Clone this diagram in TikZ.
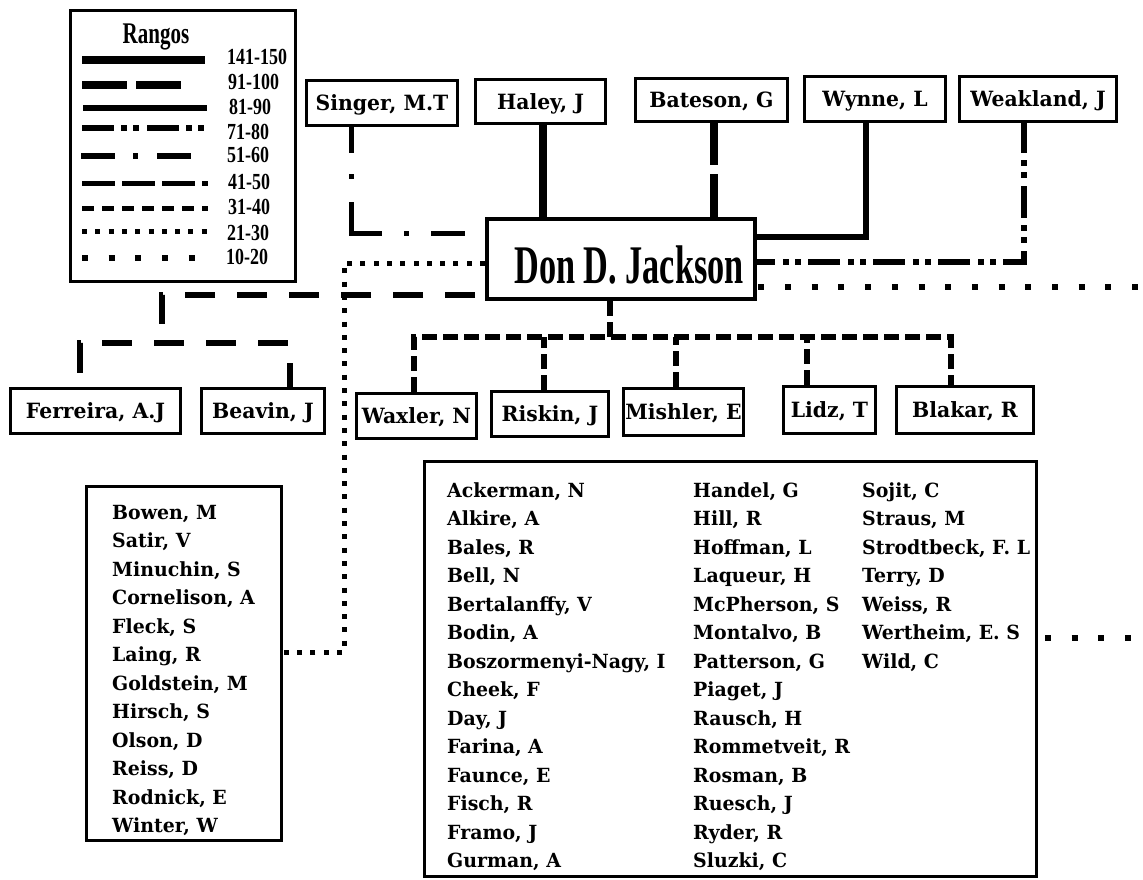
\documentclass[tikz,border=0pt]{standalone}
\usepackage{fontspec}
\setmainfont{DejaVu Serif}[FakeStretch=0.97]
\newfontfamily\condfont[FakeStretch=0.70]{Liberation Serif}
\newfontfamily\numfont[FakeStretch=0.78]{Liberation Serif}
\newfontfamily\jackfont[FakeStretch=0.63]{Liberation Serif}
\begin{document}
\begin{tikzpicture}[x=1pt,y=-1pt,
  box/.style={draw, line width=3.5pt, fill=white, inner sep=0pt,
    font=\fontsize{21}{23}\selectfont\bfseries, text height=15.3pt, text depth=0pt},
  listname/.style={anchor=base west, inner sep=0pt, font=\fontsize{19.5}{22}\selectfont\bfseries},
  rng/.style={anchor=west, inner sep=0pt, font={\numfont\bfseries\fontsize{23}{25}\selectfont}},
  r141/.style={line width=8pt},
  r91/.style={line width=8pt, dash pattern=on 45pt off 9pt},
  r81/.style={line width=6pt},
  r71/.style={line width=6pt, dash pattern=on 32pt off 7pt on 6pt off 6pt on 6pt off 8pt},
  r51/.style={line width=5pt, dash pattern=on 34pt off 18pt on 5pt off 19pt},
  r41/.style={line width=5pt, dash pattern=on 33pt off 7pt},
  r31/.style={line width=5pt, dash pattern=on 12pt off 8pt},
  r21/.style={line width=5pt, dash pattern=on 5pt off 8.3pt},
  r10/.style={line width=6pt, dash pattern=on 6pt off 20.7pt},
  singerline/.style={line width=5pt, dash pattern=on 26pt off 21pt on 5pt off 23pt on 62pt off 22pt on 5pt off 22pt on 34pt off 20pt},
  ferline/.style={line width=5.5pt, dash pattern=on 30pt off 22pt},
  kidline/.style={line width=5.5pt, dash pattern=on 15pt off 6pt},
]
\useasboundingbox (0,0) rectangle (1143,880);

% ---- legend ----
\node[box, line width=3pt, minimum width=225pt, minimum height=271pt] (legend) at (183,146) {};
\node[anchor=base, inner sep=0pt, font={\condfont\bfseries\fontsize{30}{32}\selectfont}] (rangos) at (156,44) {Rangos};
\draw[r141] (82,60) -- (205,60);
\draw[r91] (82,85) -- (181,85);
\draw[r81] (83,108) -- (207,108);
\draw[r71] (82,128) -- (208,128);
\draw[r51] (81,156) -- (193,156);
\draw[r41] (82,183) -- (208,183);
\draw[r31] (82,208) -- (208,208);
\draw[r21] (82,231) -- (207,231);
\draw[r10] (82,258) -- (195,258);
\node[rng] (l141) at (227,57) {141-150};
\node[rng] (l91) at (228,82) {91-100};
\node[rng] (l81) at (229,107) {81-90};
\node[rng] (l71) at (227,132) {71-80};
\node[rng] (l51) at (227,155) {51-60};
\node[rng] (l41) at (228,182) {41-50};
\node[rng] (l31) at (228,207) {31-40};
\node[rng] (l21) at (227,233) {21-30};
\node[rng] (l10) at (226,257) {10-20};

% ---- central node ----
\node[box, line width=4pt, minimum width=268pt, minimum height=80pt,
  font={\jackfont\bfseries\fontsize{54.4}{58}\selectfont}, text height=48pt, text depth=0pt]
  (jackson) at (621,259) {\hspace*{16pt}Don D. Jackson};

% ---- top row ----
\node[box, minimum width=151pt, minimum height=45pt] (singer) at (382,103) {Singer, M.T};
\node[box, minimum width=130pt, minimum height=44pt] (haley) at (540.5,101.5) {Haley, J};
\node[box, minimum width=152pt, minimum height=43pt] (bateson) at (711.5,100) {Bateson, G};
\node[box, minimum width=141pt, minimum height=45pt] (wynne) at (875,99) {Wynne, L};
\node[box, minimum width=157pt, minimum height=45pt] (weakland) at (1038,99) {Weakland, J};

% ---- lower row ----
\node[box, minimum width=170pt, minimum height=45pt] (ferreira) at (95.5,411) {Ferreira, A.J};
\node[box, minimum width=123pt, minimum height=45pt] (beavin) at (263,411) {Beavin, J};
\node[box, minimum width=120pt, minimum height=45pt] (waxler) at (416.5,416) {Waxler, N};
\node[box, minimum width=117pt, minimum height=45pt] (riskin) at (550,414) {Riskin, J};
\node[box, minimum width=120pt, minimum height=47pt] (mishler) at (683.5,412) {Mishler, E};
\node[box, minimum width=92pt, minimum height=47pt] (lidz) at (829.5,410) {Lidz, T};
\node[box, minimum width=137pt, minimum height=47pt] (blakar) at (965,410) {Blakar, R};

% ---- name lists ----
\node[box, line width=3pt, minimum width=195pt, minimum height=354pt] (leftlist) at (184,663.5) {};
\foreach \n [count=\i from 0] in {{Bowen, M},{Satir, V},{Minuchin, S},{Cornelison, A},{Fleck, S},{Laing, R},
  {Goldstein, M},{Hirsch, S},{Olson, D},{Reiss, D},{Rodnick, E},{Winter, W}}
  \node[listname] (left\i) at (112,{519+28.5*\i}) {\n};

\node[box, line width=3pt, minimum width=612pt, minimum height=415pt] (biglist) at (730.5,669) {};
\foreach \n [count=\i from 0] in {{Ackerman, N},{Alkire, A},{Bales, R},{Bell, N},{Bertalanffy, V},{Bodin, A},
  {Boszormenyi-Nagy, I},{Cheek, F},{Day, J},{Farina, A},{Faunce, E},{Fisch, R},{Framo, J},{Gurman, A}}
  \node[listname] (colA\i) at (447,{497+28.5*\i}) {\n};
\foreach \n [count=\i from 0] in {{Handel, G},{Hill, R},{Hoffman, L},{Laqueur, H},{McPherson, S},{Montalvo, B},
  {Patterson, G},{Piaget, J},{Rausch, H},{Rommetveit, R},{Rosman, B},{Ruesch, J},{Ryder, R},{Sluzki, C}}
  \node[listname] (colB\i) at (693,{497+28.5*\i}) {\n};
\foreach \n [count=\i from 0] in {{Sojit, C},{Straus, M},{Strodtbeck, F. L},{Terry, D},{Weiss, R},
  {Wertheim, E. S},{Wild, C}}
  \node[listname] (colC\i) at (862,{497+28.5*\i}) {\n};

% ---- connectors to the top row ----
\coordinate (singerfoot) at ([xshift=-31pt]singer.south);
\draw[singerline] (singerfoot) |- ([yshift=26pt]jackson.west);
\coordinate (haleyfoot) at ([xshift=2.5pt]haley.south);
\draw[r141] (haleyfoot) -- (haleyfoot |- jackson.north);
\coordinate (batfoot) at ([xshift=2.5pt]bateson.south);
\draw[r91, dash phase=3pt] (batfoot) -- (batfoot |- jackson.north);
\coordinate (wynfoot) at ([xshift=-9pt]wynne.south);
\draw[r81] (wynfoot) |- ([yshift=22pt]jackson.east);
\coordinate (weakfoot) at ([xshift=-14pt]weakland.south);
\draw[r71, dash phase=2pt] (weakfoot) |- ([yshift=-3pt]jackson.east);

% ---- dotted links leaving on the right ----
\coordinate (edgeA) at (1143,287);
\draw[r10, dash phase=25.4pt] ([yshift=-28pt]jackson.east) -- (edgeA);
\coordinate (edgeB) at (1143,638);
\draw[r10, dash phase=19.7pt] ([yshift=31pt]biglist.east) -- (edgeB);

% ---- dotted link to the left list ----
\coordinate (dotturn) at (344,652);
\draw[r21] ([yshift=-4pt]jackson.west) -| (dotturn) -- ([yshift=11.5pt]leftlist.east);

% ---- Ferreira / Beavin ----
\coordinate (fstem) at (162,343);
\draw[ferline, dash phase=42pt] ([yshift=-36pt]jackson.west) -| (fstem);
\coordinate (ffoot) at ([xshift=-15.5pt]ferreira.north);
\coordinate (bfoot) at ([xshift=27pt]beavin.north);
\draw[ferline, dash phase=38pt] (ffoot) |- (fstem) -| (bfoot);

% ---- lower row under the central node ----
\coordinate (hub) at (610,337);
\draw[kidline] ([xshift=-11pt]jackson.south) -- (hub);
\coordinate (wxfoot) at ([xshift=-2.5pt]waxler.north);
\coordinate (bkfoot) at ([xshift=-14pt]blakar.north);
\draw[kidline] (wxfoot) |- (hub) -| (bkfoot);
\foreach \c/\s in {riskin/-6, mishler/-7.5, lidz/-22.5} {
  \coordinate (\c-foot) at ([xshift=\s pt]\c.north);
  \draw[kidline] (\c-foot) -- (\c-foot |- hub);
}
\end{tikzpicture}
\end{document}
